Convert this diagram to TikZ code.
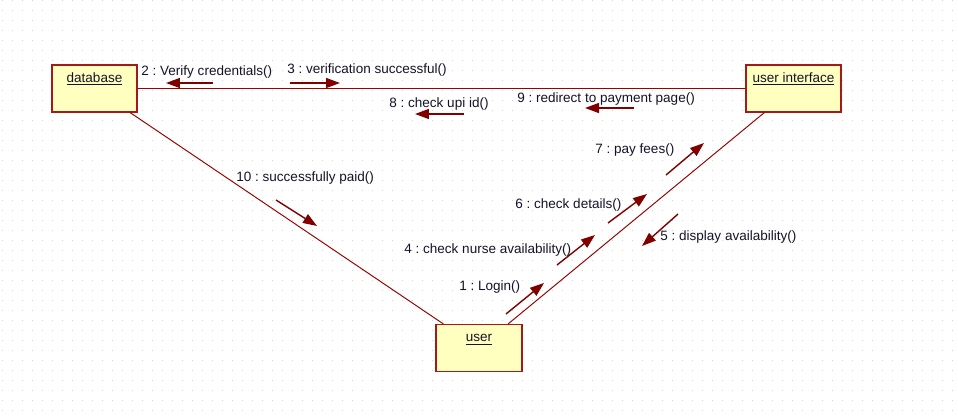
\documentclass[tikz,border=0pt]{standalone}
\usepackage{fontspec}
\setmainfont{Liberation Sans}
\usetikzlibrary{arrows.meta}
\frenchspacing

\definecolor{linkred}{RGB}{153,0,0}
\definecolor{msgred}{RGB}{128,0,0}
\definecolor{objfill}{RGB}{255,255,192}
\definecolor{objline}{RGB}{165,25,25}
\definecolor{griddot}{RGB}{210,210,210}
\definecolor{msgtext}{RGB}{20,20,40}

\tikzset{
 objbox/.style={draw=objline, fill=objfill, line width=0.75pt, inner sep=0pt, text height=9.6pt, text depth=17pt, text=msgtext, font=\fontsize{7.7}{9}\selectfont},
 link/.style={draw=linkred, line width=0.55pt},
 msg/.style={draw=msgred, line width=0.8pt, -{Triangle[length=0.28cm,width=0.2cm]}},
 msglabel/.style={anchor=west, inner sep=0pt, text=msgtext, font=\fontsize{7.7}{9}\selectfont}
}

\begin{document}
\begin{tikzpicture}[x=0.02cm,y=-0.02cm]
 \useasboundingbox (0,0) rectangle (958,419);
 \fill[white] (0,0) rectangle (958,419);
 \foreach \gx in {2,12,...,952}
  \foreach \gy in {0,10,...,410}
   \fill[griddot] (\gx,\gy) rectangle ++(1.1,1.1);

 \node (database) [objbox, minimum width=1.7cm] at (94.5,88.5) {\underline{database}};
 \node (userinterface) [objbox, minimum width=1.9cm] at (793.5,88.5) {\underline{user interface}};
 \node (user) [objbox, minimum width=1.72cm] at (479,348) {\underline{user}};

 \draw[link] (database) -- (userinterface);
 \draw[link] (database) -- (user);
 \draw[link] (userinterface) -- (user);

 \coordinate (m1a) at (506,314); \coordinate (m1b) at (544,283);
 \coordinate (m2a) at (213,83); \coordinate (m2b) at (166,83);
 \coordinate (m3a) at (290,83); \coordinate (m3b) at (340,83);
 \coordinate (m4a) at (557,265); \coordinate (m4b) at (595,235);
 \coordinate (m5a) at (678,214); \coordinate (m5b) at (642,246);
 \coordinate (m6a) at (608,223); \coordinate (m6b) at (647,194);
 \coordinate (m7a) at (666,175); \coordinate (m7b) at (704,143);
 \coordinate (m8a) at (464,114); \coordinate (m8b) at (415,114);
 \coordinate (m9a) at (634,108); \coordinate (m9b) at (585,108);
 \coordinate (m10a) at (276,200); \coordinate (m10b) at (317,226);

 \draw[msg] (m1a) -- (m1b);
 \draw[msg] (m2a) -- (m2b);
 \draw[msg] (m3a) -- (m3b);
 \draw[msg] (m4a) -- (m4b);
 \draw[msg] (m5a) -- (m5b);
 \draw[msg] (m6a) -- (m6b);
 \draw[msg] (m7a) -- (m7b);
 \draw[msg] (m8a) -- (m8b);
 \draw[msg] (m9a) -- (m9b);
 \draw[msg] (m10a) -- (m10b);

 \node (login) [msglabel] at (459,287) {1 : Login()};
 \node (verify) [msglabel] at (141,72) {2 : Verify credentials()};
 \node (verified) [msglabel] at (287,70) {3 : verification successful()};
 \node (checknurse) [msglabel] at (404,250) {4 : check nurse availability()};
 \node (display) [msglabel] at (660,237) {5 : display availability()};
 \node (checkdetails) [msglabel] at (515,205) {6 : check details()};
 \node (payfees) [msglabel] at (595,150) {7 : pay fees()};
 \node (checkupi) [msglabel] at (389,104) {8 : check upi id()};
 \node (redirect) [msglabel] at (517,99) {9 : redirect to payment page()};
 \node (paid) [msglabel] at (236,178) {10 : successfully paid()};
\end{tikzpicture}
\end{document}
